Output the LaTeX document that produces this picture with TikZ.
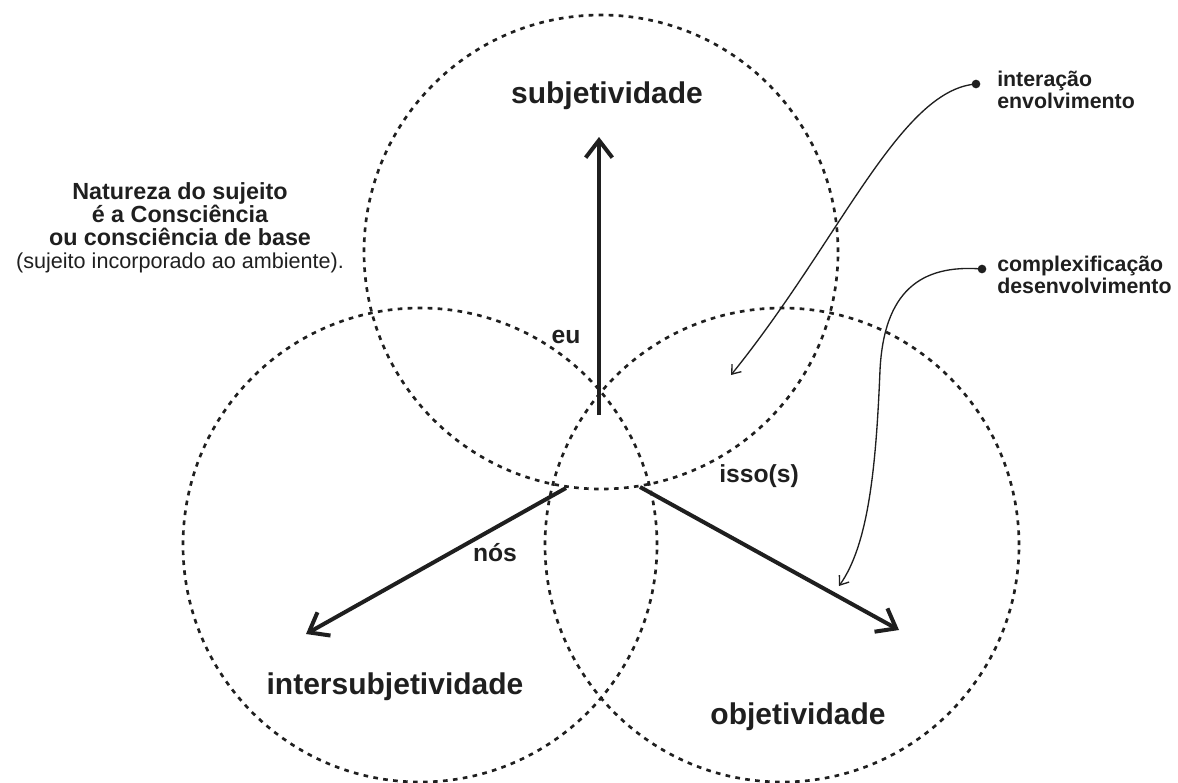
\documentclass[tikz,border=0pt]{standalone}
\usepackage{fontspec}
\setmainfont{Liberation Sans}
\usetikzlibrary{arrows.meta}
\definecolor{ink}{gray}{0.12}
\begin{document}
\begin{tikzpicture}[x=0.75pt,y=-0.75pt,
  ring/.style={draw=ink, line width=2pt, dash pattern=on 3.5pt off 4pt},
  bigarrow/.style={draw=ink, line width=3pt, -{Straight Barb[length=13pt,width=20pt,line width=3pt]}},
  thinarrow/.style={draw=ink, line width=1pt, -{Straight Barb[length=6pt,width=9pt,line width=1pt]}},
  dotn/.style={circle, fill=ink, inner sep=0pt, minimum size=6.5pt},
  mainlab/.style={text=ink, font=\bfseries\fontsize{22.5}{27}\selectfont, inner sep=0pt, anchor=base},
  smalllab/.style={text=ink, font=\bfseries\fontsize{18.5}{22}\selectfont, inner sep=0pt, anchor=base},
  natblock/.style={text=ink, align=center, font=\bfseries\fontsize{17.5}{17.2}\selectfont, inner sep=0pt, anchor=north},
  sidelab/.style={text=ink, font=\bfseries\fontsize{16}{19}\selectfont, inner sep=0pt, anchor=base west}
]
\useasboundingbox (0,0) rectangle (1178,782);
% circles
\coordinate (ct) at (601,252);
\coordinate (cl) at (420,545);
\coordinate (cr) at (782,545);
\draw[ring] (ct) circle[radius=177.75pt];
\draw[ring] (cl) circle[radius=177.75pt];
\draw[ring] (cr) circle[radius=177.75pt];
% main labels
\node[mainlab] (subj) at (607,103) {subjetividade};
\node[mainlab] (inter) at (395,694) {intersubjetividade};
\node[mainlab] (obj) at (798,724) {objetividade};
\node[smalllab] (eu) at (566,343) {eu};
\node[smalllab] (isso) at (759,482) {isso(s)};
\node[smalllab] (nos) at (495,561) {nós};
% left text block
\node[natblock] (nat) at (180,182) {Natureza do sujeito\\ é a Consciência\\ ou consciência de base\\[0.5pt] {\mdseries\fontsize{16.2}{17.2}\selectfont (sujeito incorporado ao ambiente).}};
% side labels
\node[sidelab] (r1) at (997,86) {interação};
\node[sidelab] (r2) at (997,108) {envolvimento};
\node[sidelab] (r3) at (997,271) {complexificação};
\node[sidelab] (r4) at (997,293) {desenvolvimento};
% big arrows
\coordinate (ou) at (599,415); \coordinate (tu) at (599,137);
\coordinate (ol) at (566,488); \coordinate (tl) at (306,634);
\coordinate (or) at (640,487); \coordinate (tr) at (899,630);
\draw[bigarrow] (ou) -- (tu);
\draw[bigarrow] (ol) -- (tl);
\draw[bigarrow] (or) -- (tr);
% thin curved arrows
\node[dotn] (d1) at (976,84) {};
\node[dotn] (d2) at (982,269) {};
\coordinate (e1) at (731,375);
\coordinate (m2) at (880,370);
\coordinate (e2) at (839,586);
\draw[thinarrow] (d1.center) .. controls (900,90) and (840,240) .. (e1);
\draw[thinarrow] (d2.center) .. controls (920,264) and (884,292) .. (m2) .. controls (876,470) and (868,545) .. (e2);
\end{tikzpicture}
\end{document}
